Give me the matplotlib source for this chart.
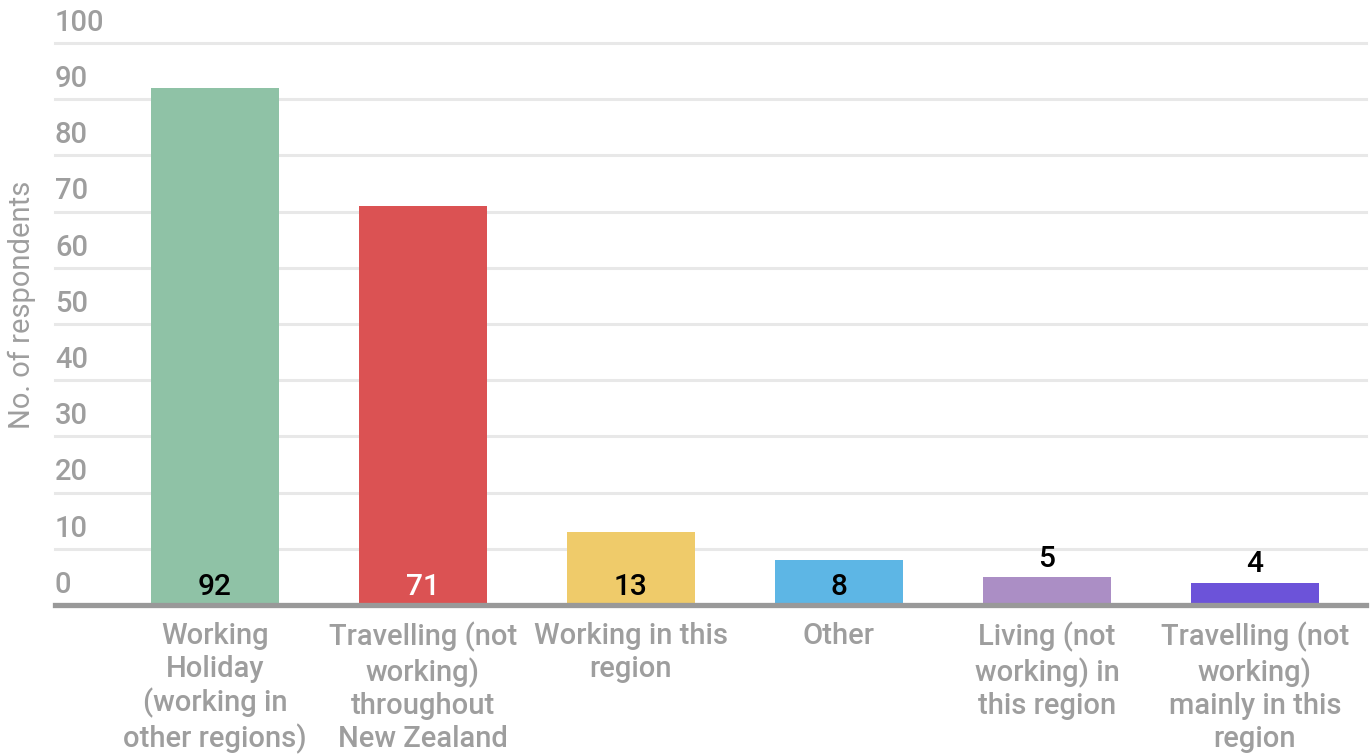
import matplotlib
matplotlib.use("Agg")
import matplotlib.pyplot as plt
import matplotlib.transforms as mtransforms

plt.rcParams['font.family'] = ['Roboto', 'DejaVu Sans']

# data
categories = [
    "Working\nHoliday\n(working in\nother regions)",
    "Travelling (not\nworking)\nthroughout\nNew Zealand",
    "Working in this\nregion",
    "Other",
    "Living (not\nworking) in\nthis region",
    "Travelling (not\nworking)\nmainly in this\nregion",
]
values = [92, 71, 13, 8, 5, 4]
bar_colors = ["#8FC2A6", "#DB5253", "#EFCB6A", "#5DB6E5", "#AB8EC5", "#6C53D9"]
label_colors = ["black", "white", "black", "black", "black", "black"]
inside_label = [True, True, True, True, False, False]
y_ticks = [0, 10, 20, 30, 40, 50, 60, 70, 80, 90, 100]

grey = "#9E9E9E"

fig = plt.figure(figsize=(13.72, 7.55), dpi=100)
ax = fig.add_axes([55 / 1372, 1 - 605 / 755, (1366 - 55) / 1372, (605 - 43) / 755])

x = list(range(len(values)))
ax.bar(x, values, width=0.615, color=bar_colors, zorder=3)

ax.set_xlim(-0.769, 5.534)
ax.set_ylim(0, 100)

# grid lines
for t in y_ticks[1:]:
    ax.axhline(t, color="#E8E8E8", lw=2.2, zorder=1, clip_on=False)
ax.axhline(0, color="#999999", lw=3.8, zorder=4, clip_on=False)

# y tick labels sit above their grid lines
trans = mtransforms.blended_transform_factory(ax.transAxes, ax.transData)
for t in y_ticks:
    ax.annotate(str(t), (0, t), xycoords=trans, xytext=(0, 4.5), textcoords="offset points",
                ha="left", va="bottom", fontsize=21, color=grey, fontweight="medium")

# value labels
for xi, v, c, inside in zip(x, values, label_colors, inside_label):
    base = 0 if inside else v
    ax.annotate(str(v), (xi, base), xytext=(0, 3), textcoords="offset points",
                ha="center", va="bottom", fontsize=21.5, color=c, fontweight="medium", zorder=5)

ax.set_xticks(x)
ax.set_xticklabels(categories, fontsize=21, color=grey, linespacing=1.22, fontweight="medium")
ax.tick_params(axis="x", length=0, pad=12)
ax.set_yticks([])

for s in ax.spines.values():
    s.set_visible(False)

fig.text(22 / 1372, 1 - 305 / 755, "No. of respondents", rotation=90, ha="center", va="center",
         fontsize=21, color=grey)

fig.savefig("out.png", dpi=100)
